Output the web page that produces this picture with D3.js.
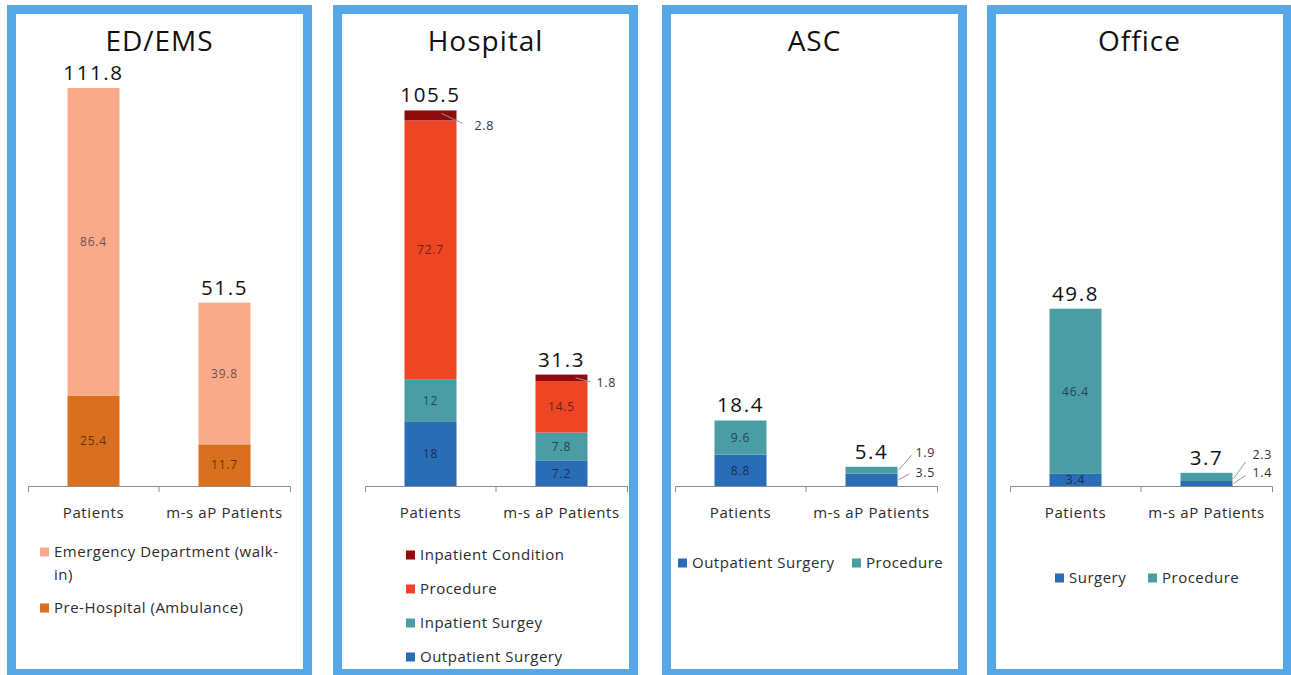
<!DOCTYPE html>
<html>
<head>
<meta charset="utf-8">
<script src="https://cdn.jsdelivr.net/npm/d3@7/dist/d3.min.js"></script>
<style>
  html, body { margin: 0; padding: 0; background: #ffffff; }
  svg { display: block; }
  text { font-family: "Open Sans", "Liberation Sans", sans-serif; }
</style>
</head>
<body>
<svg id="chart" width="1291" height="675"></svg>
<script>
// ---- data ----
const categories = ["Patients", "m-s aP Patients"];

const edSeries = ["Pre-Hospital (Ambulance)", "Emergency Department (walk-in)"];
const edPreHospital = [25.4, 11.7];
const edWalkIn = [86.4, 39.8];
const edTotals = [111.8, 51.5];

const hospSeries = ["Outpatient Surgery", "Inpatient Surgey", "Procedure", "Inpatient Condition"];
const hospOutpatientSurgery = [18, 7.2];
const hospInpatientSurgery = [12, 7.8];
const hospProcedure = [72.7, 14.5];
const hospInpatientCondition = [2.8, 1.8];
const hospTotals = [105.5, 31.3];

const ascSeries = ["Outpatient Surgery", "Procedure"];
const ascOutpatientSurgery = [8.8, 3.5];
const ascProcedure = [9.6, 1.9];
const ascTotals = [18.4, 5.4];

const officeSeries = ["Surgery", "Procedure"];
const officeSurgery = [3.4, 1.4];
const officeProcedure = [46.4, 2.3];
const officeTotals = [49.8, 3.7];

const panelTitles = ["ED/EMS", "Hospital", "ASC", "Office"];

// ---- colours ----
const C = {
  walkIn: "#f9aa8b",
  preHosp: "#d8701f",
  inpCond: "#8e0c0c",
  procRed: "#ee4524",
  teal: "#4a9ca5",
  blue: "#2a6cb6",
  border: "#55a7e7",
  axis: "#8c8c8c",
  text: "#2b2b2b"
};

// ---- panel set-up (layout kept apart from values) ----
const panels = [
  {
    title: panelTitles[0], left: 7, axisLeft: 28,
    series: [
      { name: edSeries[0], values: edPreHospital, color: C.preHosp },
      { name: edSeries[1], values: edWalkIn, color: C.walkIn }
    ],
    totals: edTotals,
    legend: { mode: "vertical", x: 40, ys: [552, 608], order: [1, 0], wrap: 236 },
    callouts: []
  },
  {
    title: panelTitles[1], left: 333, axisLeft: 365,
    series: [
      { name: hospSeries[0], values: hospOutpatientSurgery, color: C.blue },
      { name: hospSeries[1], values: hospInpatientSurgery, color: C.teal },
      { name: hospSeries[2], values: hospProcedure, color: C.procRed },
      { name: hospSeries[3], values: hospInpatientCondition, color: C.inpCond }
    ],
    totals: hospTotals,
    legend: { mode: "vertical", x: 406, ys: [555, 589, 623, 657], order: [3, 2, 1, 0], wrap: 400 },
    callouts: [
      { s: 3, c: 0, dx1: -15, dy1: -2, dx2: 6, dy2: 8, tx: 18, ty: 10 },
      { s: 3, c: 1, dx1: -12, dy1: 0, dx2: 3, dy2: 4, tx: 9, ty: 5 }
    ]
  },
  {
    title: panelTitles[2], left: 662, axisLeft: 675,
    series: [
      { name: ascSeries[0], values: ascOutpatientSurgery, color: C.blue },
      { name: ascSeries[1], values: ascProcedure, color: C.teal }
    ],
    totals: ascTotals,
    legend: { mode: "horizontal", y: 563, xs: [678, 852], order: [0, 1] },
    callouts: [
      { s: 1, c: 1, dx1: 1, dy1: 0, dx2: 14, dy2: -15, tx: 18, ty: -18 },
      { s: 0, c: 1, dx1: 1, dy1: 0, dx2: 12, dy2: -6, tx: 18, ty: -7 }
    ]
  },
  {
    title: panelTitles[3], left: 987, axisLeft: 1010,
    series: [
      { name: officeSeries[0], values: officeSurgery, color: C.blue },
      { name: officeSeries[1], values: officeProcedure, color: C.teal }
    ],
    totals: officeTotals,
    legend: { mode: "horizontal", y: 578, xs: [1055, 1148], order: [0, 1] },
    callouts: [
      { s: 1, c: 1, dx1: 1, dy1: 2, dx2: 13, dy2: -15, tx: 20, ty: -22 },
      { s: 0, c: 1, dx1: 1, dy1: 0, dx2: 13, dy2: -8, tx: 20, ty: -11 }
    ]
  }
];

const svg = d3.select("#chart");
const panelW = 305, borderW = 9, panelTop = 5, panelBottom = 678;
const baseY = 486, pxPerUnit = 3.56, yMax = 120, axisWidth = 262;

// wrap a legend label onto several lines, breaking after spaces or hyphens
function wrapInto(textSel, str, maxW, lineH) {
  const tokens = str.match(/[^ -]+[ -]?/g);
  let line = "";
  let tspan = textSel.append("tspan").attr("x", textSel.attr("x")).attr("dy", 0);
  tokens.forEach(tok => {
    const trial = line + tok;
    tspan.text(trial);
    if (tspan.node().getComputedTextLength() > maxW && line !== "") {
      tspan.text(line);
      line = tok;
      tspan = textSel.append("tspan").attr("x", textSel.attr("x")).attr("dy", lineH).text(tok);
    } else {
      line = trial;
    }
  });
}

panels.forEach(p => {
  const g = svg.append("g");

  // frame
  g.append("rect")
    .attr("x", p.left + borderW / 2)
    .attr("y", panelTop + borderW / 2)
    .attr("width", panelW - borderW)
    .attr("height", panelBottom - panelTop - borderW)
    .attr("fill", "#ffffff")
    .attr("stroke", C.border)
    .attr("stroke-width", borderW);

  // title
  g.append("text")
    .attr("x", p.left + panelW / 2)
    .attr("y", 51)
    .attr("text-anchor", "middle")
    .attr("font-size", 28)
    .attr("letter-spacing", 1)
    .attr("fill", "#111")
    .text(p.title);

  // scales
  const xAxisScale = d3.scaleBand().domain(categories)
    .range([p.axisLeft, p.axisLeft + axisWidth]).padding(0);
  const x = d3.scaleBand().domain(categories)
    .range([p.axisLeft, p.axisLeft + axisWidth])
    .paddingInner(0.603).paddingOuter(0.3015);
  const y = d3.scaleLinear().domain([0, yMax])
    .range([baseY, baseY - yMax * pxPerUnit]);

  // stacked layout
  const rows = categories.map((cat, ci) => {
    const r = { cat };
    p.series.forEach((s, si) => { r["s" + si] = s.values[ci]; });
    return r;
  });
  const stack = d3.stack().keys(p.series.map((s, si) => "s" + si));
  const layers = stack(rows);

  const isCallout = (si, ci) => p.callouts.some(k => k.s === si && k.c === ci);

  layers.forEach((layer, si) => {
    const s = p.series[si];
    const lg = g.append("g");
    lg.selectAll("rect")
      .data(layer)
      .join("rect")
      .attr("x", d => x(d.data.cat))
      .attr("width", x.bandwidth())
      .attr("y", d => y(d[1]))
      .attr("height", d => y(d[0]) - y(d[1]))
      .attr("fill", s.color);

    // inline value labels
    lg.selectAll("text")
      .data(layer.map((d, ci) => ({ d, ci })).filter(o => !isCallout(si, o.ci)))
      .join("text")
      .attr("x", o => x(o.d.data.cat) + x.bandwidth() / 2)
      .attr("y", o => (y(o.d[0]) + y(o.d[1])) / 2)
      .attr("dy", "0.36em")
      .attr("text-anchor", "middle")
      .attr("font-size", 12)
      .attr("letter-spacing", 0.8)
      .attr("fill", d3.color(s.color).darker(2.2))
      .text(o => s.values[o.ci]);
  });

  // callout labels with leader lines
  p.callouts.forEach(k => {
    const seg = layers[k.s][k.c];
    const rx = x(categories[k.c]) + x.bandwidth();
    const my = (y(seg[0]) + y(seg[1])) / 2;
    g.append("line")
      .attr("x1", rx + k.dx1).attr("y1", my + k.dy1)
      .attr("x2", rx + k.dx2).attr("y2", my + k.dy2)
      .attr("stroke", "#8a9aa8").attr("stroke-width", 1);
    g.append("text")
      .attr("x", rx + k.tx)
      .attr("y", my + k.ty)
      .attr("dy", "0.36em")
      .attr("font-size", 12.5)
      .attr("letter-spacing", 0.6)
      .attr("fill", "#333")
      .text(p.series[k.s].values[k.c]);
  });

  // totals above bars
  g.append("g").selectAll("text")
    .data(categories)
    .join("text")
    .attr("x", c => x(c) + x.bandwidth() / 2)
    .attr("y", (c, i) => y(p.totals[i]) - 8)
    .attr("text-anchor", "middle")
    .attr("font-size", 20.5)
    .attr("letter-spacing", 1.6)
    .attr("fill", "#111")
    .text((c, i) => p.totals[i]);

  // category axis
  const axisG = g.append("g")
    .attr("transform", `translate(0,${baseY})`)
    .call(d3.axisBottom(xAxisScale).tickSize(0).tickSizeOuter(6).tickPadding(21));
  axisG.select(".domain").attr("stroke", C.axis);
  axisG.selectAll("text")
    .attr("font-size", 15)
    .attr("letter-spacing", 0.6)
    .attr("fill", C.text)
    .attr("font-family", "'Open Sans', sans-serif");
  // tick between the two categories
  axisG.append("line")
    .attr("x1", p.axisLeft + xAxisScale.step()).attr("x2", p.axisLeft + xAxisScale.step())
    .attr("y1", 0).attr("y2", 6)
    .attr("stroke", C.axis);

  // legend
  const L = p.legend;
  L.order.forEach((si, idx) => {
    const s = p.series[si];
    const lx = L.mode === "vertical" ? L.x : L.xs[idx];
    const ly = L.mode === "vertical" ? L.ys[idx] : L.y;
    g.append("rect")
      .attr("x", lx).attr("y", ly - 4.5)
      .attr("width", 9).attr("height", 9)
      .attr("fill", s.color);
    const t = g.append("text")
      .attr("x", lx + 14)
      .attr("y", ly + 5)
      .attr("font-size", 15)
      .attr("letter-spacing", 0.5)
      .attr("fill", C.text);
    if (L.mode === "vertical") {
      wrapInto(t, s.name, L.wrap, 23);
    } else {
      t.text(s.name);
    }
  });
});
</script>
</body>
</html>
